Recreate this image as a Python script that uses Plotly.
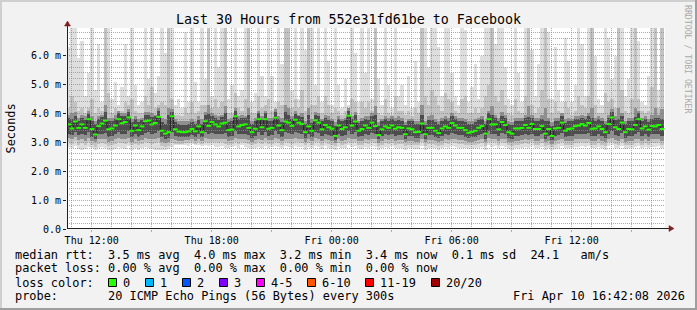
import math
import pandas as pd
import plotly.graph_objects as go

# ---------------- data (10-minute steps) ----------------
median = [
    3.62, 3.48, 3.72, 3.50, 3.62, 3.50, 3.80, 3.46, 3.27, 3.56,
    3.65, 3.75, 3.45, 3.48, 3.58, 3.80, 3.66, 3.70, 3.86, 3.40,
    3.58, 3.42, 3.55, 3.73, 3.75, 3.62, 3.67, 3.88, 3.40, 3.30,
    3.35, 3.90, 3.45, 3.37, 3.35, 3.35, 3.38, 3.46, 3.38, 3.55,
    3.35, 3.73, 3.57, 3.70, 3.62, 3.55, 3.65, 3.68, 3.42, 3.44,
    3.90, 3.55, 3.60, 3.62, 3.50, 3.35, 3.47, 3.80, 3.52, 3.80,
    3.47, 3.50, 3.85, 3.58, 3.42, 3.72, 3.68, 3.57, 3.78, 3.68,
    3.63, 3.35, 3.55, 3.40, 3.76, 3.68, 3.45, 3.60, 3.52, 3.47,
    3.22, 3.58, 3.46, 3.52, 3.92, 3.58, 3.72, 3.40, 3.46, 3.58,
    3.50, 3.68, 3.56, 3.25, 3.45, 3.55, 3.50, 3.58, 3.47, 3.52,
    3.50, 3.28, 3.48, 3.45, 3.35, 3.36, 3.65, 3.28, 3.50, 3.50,
    3.40, 3.32, 3.48, 3.55, 3.50, 3.67, 3.58, 3.50, 3.50, 3.42,
    3.33, 3.36, 3.40, 3.50, 3.56, 3.30, 3.80, 3.62, 3.62, 3.45,
    3.70, 3.60, 3.35, 3.30, 3.48, 3.48, 3.50, 3.60, 3.50, 3.63,
    3.46, 3.46, 3.56, 3.30, 3.46, 3.22, 3.48, 3.50, 3.68, 3.40,
    3.46, 3.48, 3.56, 3.58, 3.63, 3.58, 3.67, 3.47, 3.48, 3.55,
    3.46, 3.35, 3.63, 3.86, 3.52, 3.46, 3.68, 3.35, 3.46, 3.45,
    3.60, 3.80, 3.48, 3.55, 3.44, 3.56, 3.55, 3.60, 3.46,
]
smoke_max = [
    6.3, 7.5, 7.5, 5.9, 6.5, 4.6, 5.4, 7.5, 4.8, 6.4,
    4.4, 7.5, 7.5, 4.5, 5.1, 4.3, 4.9, 6.4, 4.6, 7.5,
    5.0, 4.3, 4.4, 7.5, 5.2, 7.5, 4.7, 5.3, 7.5, 6.1,
    7.5, 7.5, 4.3, 4.5, 4.2, 6.8, 4.4, 7.5, 5.1, 4.4,
    7.5, 5.2, 7.5, 4.6, 7.5, 5.6, 7.5, 7.5, 4.5, 5.0,
    7.5, 4.6, 4.8, 7.5, 7.5, 4.4, 4.7, 7.5, 5.3, 4.6,
    7.5, 5.3, 4.4, 7.5, 5.7, 7.5, 7.5, 4.8, 7.5, 4.5,
    7.5, 6.2, 4.9, 7.5, 5.0, 7.5, 4.4, 7.5, 5.8, 4.3,
    7.5, 5.0, 4.2, 5.2, 4.3, 7.5, 6.1, 4.4, 7.5, 5.4,
    7.5, 4.5, 7.5, 5.2, 4.3, 7.5, 5.0, 4.2, 7.5, 4.6,
    5.0, 4.3, 5.3, 4.2, 5.8, 4.4, 7.5, 7.5, 5.6, 7.5,
    7.5, 6.3, 4.6, 7.5, 7.5, 5.4, 4.6, 4.3, 7.5, 6.9,
    4.4, 4.9, 5.7, 4.5, 6.0, 7.5, 7.5, 7.5, 6.4, 7.5,
    7.5, 5.6, 4.5, 4.3, 7.5, 5.4, 4.4, 7.5, 7.5, 6.2,
    4.6, 5.7, 7.5, 7.5, 6.8, 4.5, 6.3, 4.8, 4.4, 6.6,
    5.8, 4.4, 5.0, 7.5, 6.4, 4.6, 7.5, 7.5, 6.0, 4.5,
    4.3, 7.5, 6.6, 5.2, 6.0, 7.5, 7.5, 4.6, 5.2, 7.5,
    7.5, 6.5, 4.4, 4.3, 5.3, 7.5, 7.5, 4.8, 7.5,
]
smoke_p85 = [
    4.2, 4.6, 4.4, 4.1, 4.2, 4.0, 4.2, 4.5, 4.0, 4.2,
    4.1, 7.5, 4.7, 4.0, 4.2, 4.1, 4.1, 4.4, 4.3, 4.5,
    4.1, 4.0, 4.0, 4.6, 4.3, 4.9, 4.2, 4.3, 4.4, 4.3,
    7.5, 4.5, 3.95, 3.95, 3.9, 4.2, 4.0, 4.4, 4.0, 4.1,
    4.3, 4.3, 7.5, 4.2, 4.5, 4.2, 4.4, 7.5, 4.0, 4.0,
    4.7, 4.2, 4.1, 4.5, 7.5, 4.0, 4.0, 4.6, 4.2, 4.3,
    4.5, 4.1, 4.2, 4.4, 4.3, 7.5, 7.5, 4.2, 4.5, 4.2,
    4.8, 4.1, 7.5, 4.3, 4.3, 4.6, 4.0, 4.6, 4.3, 4.0,
    4.2, 4.1, 3.95, 4.1, 4.2, 4.5, 4.4, 3.95, 4.4, 4.2,
    4.4, 4.1, 7.5, 4.0, 3.95, 4.5, 4.0, 3.95, 4.6, 4.1,
    4.1, 3.95, 4.1, 3.9, 4.2, 4.0, 7.5, 4.6, 4.3, 4.8,
    4.6, 4.3, 4.1, 4.7, 4.5, 4.4, 4.1, 4.0, 4.5, 4.6,
    4.0, 4.0, 4.2, 4.0, 4.2, 4.6, 5.0, 7.5, 4.6, 4.4,
    4.8, 4.3, 4.0, 3.95, 4.5, 4.1, 4.0, 4.6, 7.5, 4.3,
    4.0, 4.2, 4.8, 7.5, 4.5, 4.0, 4.4, 4.1, 4.0, 4.4,
    4.2, 3.95, 4.1, 4.6, 4.3, 4.2, 4.6, 7.5, 4.3, 4.0,
    4.0, 4.7, 4.4, 4.5, 4.2, 7.5, 4.8, 4.1, 4.0, 4.5,
    7.5, 4.5, 4.1, 4.0, 4.1, 4.9, 7.5, 4.2, 7.5,
]
smoke_p70 = [
    3.95, 4.00, 4.05, 3.85, 3.95, 3.90, 4.10, 3.90, 3.75, 3.90,
    3.95, 4.30, 3.85, 3.85, 3.95, 4.10, 4.00, 4.00, 4.15, 3.80,
    3.90, 3.80, 3.85, 4.05, 4.05, 4.00, 3.95, 4.20, 3.85, 3.80,
    4.20, 4.15, 3.80, 3.72, 3.72, 3.75, 3.75, 3.80, 3.75, 3.90,
    3.80, 4.05, 4.30, 4.00, 3.95, 3.90, 3.95, 4.25, 3.80, 3.85,
    4.20, 3.90, 3.95, 3.90, 4.20, 3.75, 3.85, 4.10, 3.90, 4.10,
    3.85, 3.85, 4.15, 3.90, 3.85, 4.30, 4.20, 3.90, 4.10, 3.95,
    4.00, 3.75, 4.20, 3.80, 4.05, 4.00, 3.80, 3.95, 3.90, 3.80,
    3.70, 3.90, 3.80, 3.85, 4.20, 3.90, 4.05, 3.75, 3.85, 3.90,
    3.90, 4.00, 4.25, 3.70, 3.80, 3.90, 3.85, 3.90, 3.85, 3.90,
    3.85, 3.70, 3.80, 3.80, 3.75, 3.75, 4.30, 3.75, 3.90, 3.95,
    3.80, 3.75, 3.85, 3.90, 3.85, 4.00, 3.90, 3.85, 3.85, 3.80,
    3.75, 3.75, 3.80, 3.85, 3.90, 3.75, 4.10, 4.25, 3.95, 3.85,
    4.05, 3.95, 3.75, 3.70, 3.85, 3.85, 3.85, 3.95, 4.25, 3.95,
    3.85, 3.85, 3.95, 4.20, 3.85, 3.70, 3.85, 3.85, 4.00, 3.80,
    3.85, 3.80, 3.90, 3.90, 3.95, 3.90, 4.00, 4.20, 3.85, 3.90,
    3.85, 3.75, 3.95, 4.15, 3.90, 4.20, 4.00, 3.75, 3.85, 3.85,
    4.20, 4.10, 3.85, 3.90, 3.80, 3.95, 4.20, 3.95, 4.15,
]
smoke_p60 = [
    3.85, 3.80, 3.92, 3.75, 3.85, 3.78, 3.98, 3.75, 3.62, 3.80,
    3.88, 4.05, 3.72, 3.75, 3.82, 4.00, 3.90, 3.92, 4.05, 3.70,
    3.82, 3.70, 3.78, 3.95, 3.95, 3.88, 3.90, 4.08, 3.70, 3.62,
    3.95, 4.05, 3.70, 3.62, 3.60, 3.60, 3.62, 3.70, 3.62, 3.78,
    3.65, 3.95, 3.98, 3.92, 3.85, 3.78, 3.88, 4.00, 3.70, 3.72,
    4.08, 3.80, 3.85, 3.85, 3.95, 3.65, 3.72, 4.00, 3.78, 4.00,
    3.72, 3.75, 4.05, 3.82, 3.70, 4.05, 3.95, 3.82, 3.98, 3.90,
    3.88, 3.65, 3.95, 3.68, 3.95, 3.90, 3.72, 3.85, 3.78, 3.72,
    3.55, 3.82, 3.72, 3.78, 4.10, 3.82, 3.95, 3.68, 3.72, 3.82,
    3.78, 3.90, 3.95, 3.58, 3.72, 3.80, 3.75, 3.82, 3.75, 3.78,
    3.75, 3.60, 3.75, 3.72, 3.65, 3.65, 3.95, 3.60, 3.78, 3.78,
    3.70, 3.62, 3.75, 3.80, 3.75, 3.90, 3.82, 3.75, 3.75, 3.70,
    3.62, 3.65, 3.70, 3.78, 3.82, 3.62, 4.00, 3.95, 3.85, 3.72,
    3.92, 3.85, 3.65, 3.60, 3.75, 3.75, 3.75, 3.85, 3.88, 3.85,
    3.72, 3.72, 3.82, 3.75, 3.72, 3.55, 3.75, 3.75, 3.90, 3.68,
    3.72, 3.72, 3.80, 3.82, 3.85, 3.82, 3.90, 3.85, 3.75, 3.80,
    3.72, 3.65, 3.85, 4.05, 3.78, 3.80, 3.90, 3.65, 3.72, 3.72,
    3.88, 4.00, 3.75, 3.80, 3.70, 3.82, 3.85, 3.85, 3.80,
]
smoke_p40 = [
    3.30, 3.25, 3.35, 3.25, 3.30, 3.25, 3.35, 3.20, 3.10, 3.28,
    3.30, 3.32, 3.20, 3.22, 3.28, 3.35, 3.30, 3.30, 3.38, 3.18,
    3.28, 3.20, 3.25, 3.32, 3.35, 3.30, 3.32, 3.40, 3.18, 3.12,
    3.15, 3.35, 3.22, 3.18, 3.18, 3.20, 3.20, 3.25, 3.20, 3.28,
    3.18, 3.35, 3.28, 3.32, 3.30, 3.28, 3.30, 3.32, 3.20, 3.22,
    3.38, 3.28, 3.30, 3.30, 3.25, 3.15, 3.22, 3.35, 3.25, 3.35,
    3.22, 3.25, 3.38, 3.28, 3.20, 3.35, 3.32, 3.28, 3.35, 3.32,
    3.30, 3.15, 3.28, 3.20, 3.35, 3.32, 3.22, 3.30, 3.25, 3.22,
    3.08, 3.28, 3.22, 3.25, 3.40, 3.28, 3.35, 3.20, 3.22, 3.28,
    3.25, 3.32, 3.28, 3.10, 3.22, 3.28, 3.25, 3.28, 3.22, 3.25,
    3.25, 3.12, 3.22, 3.22, 3.15, 3.15, 3.30, 3.12, 3.25, 3.25,
    3.20, 3.15, 3.22, 3.28, 3.25, 3.32, 3.28, 3.25, 3.25, 3.20,
    3.15, 3.18, 3.20, 3.25, 3.28, 3.12, 3.38, 3.30, 3.30, 3.22,
    3.32, 3.28, 3.15, 3.12, 3.22, 3.22, 3.25, 3.28, 3.25, 3.30,
    3.22, 3.22, 3.28, 3.12, 3.22, 3.08, 3.22, 3.25, 3.32, 3.20,
    3.22, 3.22, 3.28, 3.28, 3.30, 3.28, 3.32, 3.22, 3.22, 3.28,
    3.22, 3.15, 3.30, 3.40, 3.25, 3.22, 3.32, 3.15, 3.22, 3.22,
    3.28, 3.35, 3.22, 3.28, 3.20, 3.28, 3.28, 3.30, 3.22,
]
smoke_p30 = [
    3.15, 3.10, 3.18, 3.08, 3.12, 3.05, 3.15, 3.05, 3.00, 3.10,
    3.12, 3.10, 3.02, 3.05, 3.10, 3.15, 3.12, 3.10, 3.15, 3.02,
    3.10, 3.05, 3.08, 3.15, 3.12, 3.10, 3.12, 3.15, 3.02, 2.98,
    3.00, 3.12, 3.08, 3.05, 3.05, 3.08, 3.08, 3.10, 3.05, 3.12,
    3.05, 3.15, 3.10, 3.12, 3.12, 3.10, 3.12, 3.10, 3.05, 3.08,
    3.15, 3.10, 3.12, 3.10, 3.08, 3.02, 3.08, 3.12, 3.08, 3.15,
    3.08, 3.08, 3.15, 3.10, 3.05, 3.12, 3.12, 3.10, 3.15, 3.12,
    3.10, 3.02, 3.10, 3.05, 3.15, 3.12, 3.05, 3.12, 3.08, 3.05,
    2.98, 3.10, 3.05, 3.08, 3.15, 3.10, 3.12, 3.05, 3.05, 3.10,
    3.08, 3.12, 3.10, 2.98, 3.05, 3.10, 3.08, 3.10, 3.05, 3.08,
    3.08, 3.00, 3.05, 3.05, 3.02, 3.02, 3.12, 3.00, 3.08, 3.08,
    3.05, 3.00, 3.05, 3.10, 3.08, 3.12, 3.10, 3.08, 3.08, 3.05,
    3.02, 3.02, 3.05, 3.08, 3.10, 3.00, 3.15, 3.12, 3.12, 3.05,
    3.12, 3.10, 3.02, 3.00, 3.05, 3.05, 3.08, 3.10, 3.08, 3.12,
    3.05, 3.05, 3.10, 3.00, 3.05, 2.95, 3.05, 3.08, 3.12, 3.05,
    3.05, 3.05, 3.10, 3.10, 3.12, 3.10, 3.12, 3.05, 3.05, 3.10,
    3.05, 3.00, 3.12, 3.15, 3.08, 3.05, 3.12, 3.02, 3.05, 3.05,
    3.10, 3.12, 3.05, 3.10, 3.05, 3.10, 3.10, 3.12, 3.05,
]
smoke_p15 = [
    3.00, 2.95, 3.05, 2.92, 2.98, 2.90, 3.00, 2.92, 2.85, 2.95,
    2.98, 2.95, 2.88, 2.90, 2.95, 3.00, 2.98, 2.95, 3.00, 2.90,
    2.95, 2.92, 2.95, 3.00, 2.98, 2.95, 2.98, 3.00, 2.88, 2.85,
    2.88, 2.98, 2.95, 2.95, 2.95, 2.98, 2.98, 3.00, 2.95, 3.00,
    2.95, 3.00, 2.98, 3.00, 3.00, 2.98, 3.00, 2.95, 2.92, 2.95,
    3.00, 2.95, 3.00, 2.98, 2.95, 2.90, 2.95, 3.00, 2.95, 3.02,
    2.95, 2.95, 3.00, 2.98, 2.92, 3.00, 2.98, 2.95, 3.02, 3.00,
    2.98, 2.90, 2.98, 2.92, 3.02, 3.00, 2.92, 3.00, 2.95, 2.92,
    2.88, 2.98, 2.92, 2.95, 3.02, 2.98, 3.00, 2.92, 2.92, 2.98,
    2.95, 3.00, 2.98, 2.88, 2.92, 2.98, 2.95, 2.98, 2.92, 2.95,
    2.95, 2.88, 2.92, 2.92, 2.90, 2.90, 3.00, 2.88, 2.95, 2.95,
    2.92, 2.88, 2.92, 2.98, 2.95, 3.00, 2.98, 2.95, 2.95, 2.92,
    2.90, 2.90, 2.92, 2.95, 2.98, 2.88, 3.02, 3.00, 3.00, 2.92,
    3.00, 2.98, 2.90, 2.88, 2.92, 2.92, 2.95, 2.98, 2.95, 3.00,
    2.92, 2.92, 2.98, 2.88, 2.92, 2.85, 2.92, 2.95, 3.00, 2.92,
    2.92, 2.92, 2.98, 2.98, 3.00, 2.98, 3.00, 2.92, 2.92, 2.98,
    2.92, 2.88, 3.00, 3.02, 2.95, 2.92, 3.00, 2.90, 2.92, 2.92,
    2.98, 3.00, 2.92, 2.98, 2.92, 2.98, 2.98, 3.00, 2.92,
]
smoke_min = [
    2.85, 2.80, 2.88, 2.78, 2.75, 2.78, 2.85, 2.80, 2.72, 2.82,
    2.85, 2.80, 2.72, 2.72, 2.78, 2.85, 2.80, 2.78, 2.88, 2.75,
    2.82, 2.75, 2.80, 2.85, 2.80, 2.78, 2.75, 2.72, 2.72, 2.75,
    2.78, 2.85, 2.92, 2.90, 2.90, 2.92, 2.88, 2.95, 2.92, 2.90,
    2.88, 2.92, 2.88, 2.90, 2.85, 2.85, 2.88, 2.82, 2.80, 2.85,
    2.88, 2.82, 2.90, 2.85, 2.80, 2.78, 2.80, 2.85, 2.82, 2.88,
    2.82, 2.85, 2.88, 2.85, 2.80, 2.88, 2.85, 2.82, 2.88, 2.85,
    2.85, 2.75, 2.85, 2.80, 2.88, 2.85, 2.78, 2.88, 2.80, 2.78,
    2.75, 2.85, 2.80, 2.82, 2.90, 2.85, 2.88, 2.80, 2.78, 2.85,
    2.82, 2.88, 2.85, 2.75, 2.80, 2.85, 2.82, 2.88, 2.80, 2.82,
    2.82, 2.75, 2.80, 2.80, 2.78, 2.78, 2.88, 2.75, 2.82, 2.82,
    2.80, 2.75, 2.80, 2.85, 2.82, 2.88, 2.85, 2.82, 2.82, 2.80,
    2.78, 2.78, 2.80, 2.82, 2.85, 2.75, 2.90, 2.85, 2.88, 2.80,
    2.88, 2.85, 2.78, 2.75, 2.80, 2.80, 2.82, 2.85, 2.82, 2.88,
    2.80, 2.80, 2.85, 2.75, 2.80, 2.72, 2.78, 2.82, 2.88, 2.80,
    2.80, 2.80, 2.85, 2.85, 2.88, 2.85, 2.88, 2.80, 2.80, 2.85,
    2.80, 2.75, 2.88, 2.90, 2.82, 2.80, 2.88, 2.78, 2.80, 2.80,
    2.85, 2.88, 2.80, 2.85, 2.80, 2.85, 2.85, 2.88, 2.80,
]

first_step = '2026-04-09 10:50:54'      # centre of the first 10-min step
x_start, x_end = '2026-04-09 10:45:54', '2026-04-10 16:39:54'
x_tick_vals = ['2026-04-09 12:00', '2026-04-09 15:00', '2026-04-09 18:00', '2026-04-09 21:00',
               '2026-04-10 00:00', '2026-04-10 03:00', '2026-04-10 06:00', '2026-04-10 09:00',
               '2026-04-10 12:00', '2026-04-10 15:00']
x_tick_text = ['Thu 12:00', '', 'Thu 18:00', '', 'Fri 00:00', '', 'Fri 06:00', '', 'Fri 12:00', '']
y_tick_vals = [0, 1, 2, 3, 4, 5, 6]
y_tick_text = ['0.0', '1.0 m', '2.0 m', '3.0 m', '4.0 m', '5.0 m', '6.0 m']

title_text = 'Last 30 Hours from 552e31fd61be to Facebook'
rtt_stats = ['3.5 ms avg', '4.0 ms max', '3.2 ms min', '3.4 ms now', '0.1 ms sd', '24.1   am/s']
loss_stats = ['0.00 % avg', '0.00 % max', '0.00 % min', '0.00 % now']
loss_labels = ['0', '1', '2', '3', '4-5', '6-10', '11-19', '20/20']
loss_colors = ['#26ff00', '#00b8ff', '#0059ff', '#7e00ff', '#ff00ff', '#ff5500', '#ff0000', '#a10000']
probe_text = '20 ICMP Echo Pings (56 Bytes) every 300s'
stamp_text = 'Fri Apr 10 16:42:08 2026'

# ---------------- layout geometry (pixels) ----------------
W, H = 697, 310
L, R, T, B = 67, 665, 28, 229
PW, PH = R - L, B - T
YMAX = 6.955
FONT = 'DejaVu Sans Mono'
t_left, t_right = pd.Timestamp(x_start), pd.Timestamp(x_end)
span = t_right - t_left


def px(x):
    return (x - L) / PW


def py(y):
    return (B - y) / PH


def snap_t(t):
    xp = L + (t - t_left) / span * PW
    xs = math.floor(xp) + 0.5
    return t_left + (xs - L) / PW * span


def snap_v(v):
    yp = T + (YMAX - v) / YMAX * PH
    ys = math.floor(yp) + 0.5
    return YMAX - (ys - T) * YMAX / PH


times = pd.date_range(first_step, periods=len(median), freq='10min')
step_ms = 600000

fig = go.Figure()
layers = [
    (smoke_min, smoke_max, '#dedede'),
    (smoke_p15, smoke_p85, '#c2c2c2'),
    (smoke_p30, smoke_p70, '#8f8f8f'),
    (smoke_p40, smoke_p60, '#4d4d4d'),
]
for lo, hi, col in layers:
    fig.add_trace(go.Bar(x=times, y=[h - l for h, l in zip(hi, lo)], base=lo,
                         width=step_ms, marker=dict(color=col, line=dict(width=0)),
                         hoverinfo='skip', showlegend=False))
fig.add_trace(go.Scatter(x=times, y=median, mode='lines',
                         line=dict(color='#202020', width=1, shape='hvh'),
                         hoverinfo='skip', showlegend=False))
fig.add_trace(go.Scatter(x=times, y=median, mode='markers',
                         marker=dict(symbol='line-ew', size=3.4,
                                     line=dict(color=loss_colors[0], width=2)),
                         hoverinfo='skip', showlegend=False))

shapes = []
MINOR = 'rgba(143,143,143,0.75)'
MAJOR = 'rgba(222,79,79,0.6)'
# vertical grid (hourly minor, 3-hourly major), drawn above the data like rrdtool
for t in pd.date_range('2026-04-09 11:00', '2026-04-10 16:00', freq='1h'):
    col = MAJOR if t.hour % 3 == 0 else MINOR
    ts = snap_t(t)
    shapes.append(dict(type='line', xref='x', yref='paper', x0=ts, x1=ts, y0=0, y1=1,
                       line=dict(color=col, width=1, dash='1px,1px'), layer='above'))
# horizontal grid
for i in range(1, 35):
    v = i * 0.2
    col = MAJOR if i % 5 == 0 else MINOR
    vs = snap_v(v)
    shapes.append(dict(type='line', xref='paper', yref='y', x0=0, x1=1, y0=vs, y1=vs,
                       line=dict(color=col, width=1, dash='1px,1px'), layer='above'))
# axes lines
AX = '#1f1f1f'
shapes.append(dict(type='line', xref='paper', yref='paper', x0=px(L), x1=px(670), y0=py(228.5), y1=py(228.5),
                   line=dict(color=AX, width=1), layer='above'))
shapes.append(dict(type='line', xref='paper', yref='paper', x0=px(67.5), x1=px(67.5), y0=py(229), y1=py(24),
                   line=dict(color=AX, width=1), layer='above'))
ARROW = '#801f1f'
shapes.append(dict(type='path', xref='paper', yref='paper',
                   path=f'M {px(669)} {py(225.5)} L {px(674)} {py(228.5)} L {px(669)} {py(231.5)} Z',
                   fillcolor=ARROW, line=dict(color=ARROW, width=0.5), layer='above'))
shapes.append(dict(type='path', xref='paper', yref='paper',
                   path=f'M {px(64.5)} {py(26)} L {px(67.5)} {py(21)} L {px(70.5)} {py(26)} Z',
                   fillcolor=ARROW, line=dict(color=ARROW, width=0.5), layer='above'))
# 3-D frame of the image
shapes.append(dict(type='rect', xref='paper', yref='paper', x0=px(0), x1=px(W), y0=py(0), y1=py(2),
                   fillcolor='#cfcfcf', line=dict(width=0), layer='below'))
shapes.append(dict(type='rect', xref='paper', yref='paper', x0=px(0), x1=px(2), y0=py(0), y1=py(H),
                   fillcolor='#cfcfcf', line=dict(width=0), layer='below'))
shapes.append(dict(type='rect', xref='paper', yref='paper', x0=px(0), x1=px(W), y0=py(H - 2), y1=py(H),
                   fillcolor='#9e9e9e', line=dict(width=0), layer='below'))
shapes.append(dict(type='rect', xref='paper', yref='paper', x0=px(W - 2), x1=px(W), y0=py(0), y1=py(H),
                   fillcolor='#9e9e9e', line=dict(width=0), layer='below'))

# loss colour boxes
box_left = [108.5, 145.5, 182.5, 219.5, 256.5, 307.5, 365.5, 431.5]
for bl, col in zip(box_left, loss_colors):
    shapes.append(dict(type='rect', xref='paper', yref='paper', x0=px(bl), x1=px(bl + 8),
                       y0=py(278.5), y1=py(286.5), fillcolor=col,
                       line=dict(color='#000000', width=1), layer='above'))


def ann(text, x, y, size, xanchor='left', angle=0, color='#000000'):
    return dict(text=text.replace(' ', '\u00a0'), x=px(x), y=py(y), xref='paper', yref='paper',
                showarrow=False, xanchor=xanchor, yanchor='middle', textangle=angle,
                borderpad=0, borderwidth=0,
                font=dict(family=FONT, size=size, color=color))


LEG = 11.9
line1 = 'median rtt:  ' + '  '.join(rtt_stats)
line2 = 'packet loss: ' + '  '.join(loss_stats)
line4 = 'probe:       ' + probe_text
annotations = [
    ann(title_text, 348, 19.5, 13.33, xanchor='center'),
    ann('Seconds', 10, 128.5, LEG, xanchor='center', angle=-90),
    ann('RRDTOOL / TOBI OETIKER', 688, 59, 8.2, xanchor='center', angle=90, color='#a9a9a9'),
    ann(line1, 14.5, 254.5, LEG),
    ann(line2, 14.5, 268, LEG),
    ann('loss color:', 14.5, 282.5, LEG),
    ann(line4, 14.5, 296, LEG),
    ann(stamp_text, 513, 296, LEG),
]
for bl, lab in zip(box_left, loss_labels):
    annotations.append(ann(lab, bl + 14.5, 282.5, LEG))

fig.update_layout(
    width=W, height=H,
    margin=dict(l=L, r=W - R, t=T, b=H - B, pad=0),
    paper_bgcolor='#f2f2f2', plot_bgcolor='#ffffff',
    barmode='overlay', bargap=0,
    showlegend=False,
    shapes=shapes, annotations=annotations,
    xaxis=dict(type='date', range=[x_start, x_end], tickmode='array',
               tickvals=x_tick_vals, ticktext=x_tick_text,
               showgrid=False, zeroline=False, showline=False,
               ticks='outside', ticklen=2, tickcolor=MAJOR, tickwidth=1,
               tickfont=dict(family=FONT, size=10, color='#000000'), fixedrange=True),
    yaxis=dict(range=[0, YMAX], tickmode='array', tickvals=y_tick_vals, ticktext=y_tick_text,
               showgrid=False, zeroline=False, showline=False,
               ticks='outside', ticklen=3, tickcolor=AX, tickwidth=1,
               tickfont=dict(family=FONT, size=10, color='#000000'), fixedrange=True),
)

fig.write_html('out.html')
